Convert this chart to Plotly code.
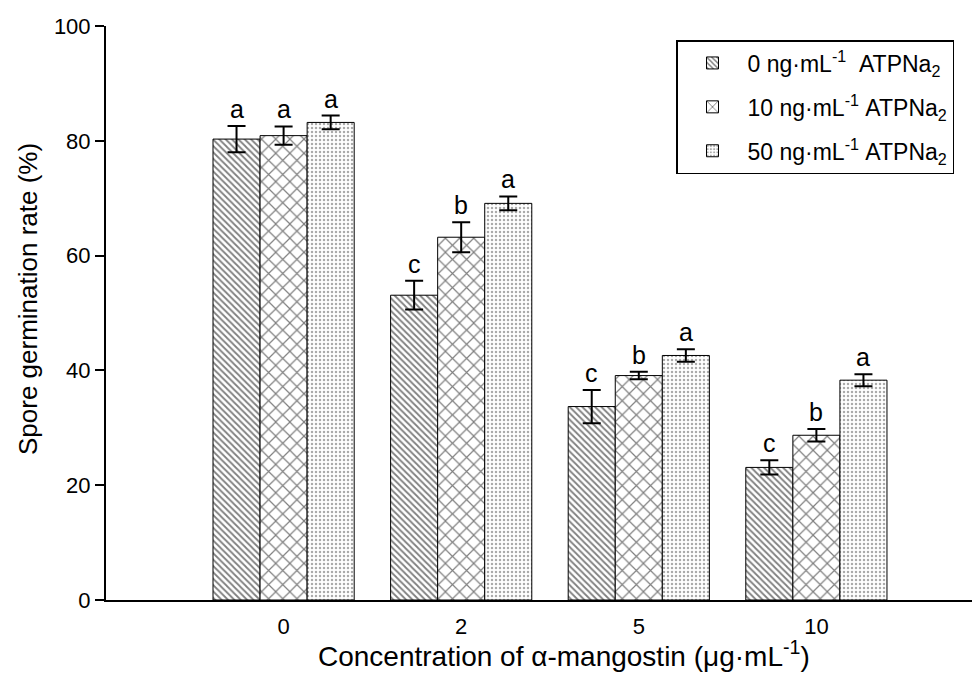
import plotly.graph_objects as go

# ---- data ----
categories = ["0", "2", "5", "10"]
series_names = [
    "0 ng·mL<sup>-1</sup>\u00a0\u00a0ATPNa<sub>2</sub>",
    "10 ng·mL<sup>-1</sup>\u00a0ATPNa<sub>2</sub>",
    "50 ng·mL<sup>-1</sup>\u00a0ATPNa<sub>2</sub>",
]
atp0_values = [80.3, 53.1, 33.7, 23.1]
atp0_errors = [2.3, 2.5, 2.9, 1.25]
atp0_letters = ["a", "c", "c", "c"]

atp10_values = [80.9, 63.2, 39.1, 28.7]
atp10_errors = [1.6, 2.6, 0.65, 1.1]
atp10_letters = ["a", "b", "b", "b"]

atp50_values = [83.2, 69.1, 42.6, 38.3]
atp50_errors = [1.2, 1.2, 1.1, 1.05]
atp50_letters = ["a", "a", "a", "a"]

y_ticks = [0, 20, 40, 60, 80, 100]
x_title = "Concentration of α-mangostin (μg·mL<sup>-1</sup>)"
y_title = "Spore germination rate (%)"

FONT = "Liberation Sans, Arial, Helvetica, sans-serif"

values = [atp0_values, atp10_values, atp50_values]
errors = [atp0_errors, atp10_errors, atp50_errors]
letters = [atp0_letters, atp10_letters, atp50_letters]
patterns = [
    dict(shape="\\", size=4.5, solidity=0.4, fgcolor="black", bgcolor="white"),
    dict(shape="x", size=10, solidity=0.22, fgcolor="black", bgcolor="white"),
    dict(shape=".", size=4, solidity=0.3, fgcolor="#555555", bgcolor="white"),
]

xpos = list(range(len(categories)))
bargap = 0.205
bw = (1 - bargap) / 3

fig = go.Figure()
for i in range(3):
    fig.add_trace(go.Bar(
        x=xpos, y=values[i], name=series_names[i], legendgroup=f"g{i}",
        marker=dict(color="white", pattern=patterns[i],
                    line=dict(color="black", width=1)),
        error_y=dict(type="data", array=errors[i], visible=True,
                     color="black", thickness=2, width=9),
    ))

annotations = []
for i in range(3):
    for j in range(len(categories)):
        annotations.append(dict(
            x=j + (i - 1) * bw, y=values[i][j] + errors[i][j],
            xref="x", yref="y", text=letters[i][j], showarrow=False,
            yanchor="bottom", yshift=1,
            font=dict(family=FONT, size=25, color="black"),
        ))

# axis titles (placed as in the reference, slightly off-centre)
annotations.append(dict(
    x=(556 - 98) / 872, y=-(646 - 592) / 574, xref="paper", yref="paper",
    text=x_title, showarrow=False, xanchor="center", yanchor="middle",
    font=dict(family=FONT, size=28, color="black"),
))
annotations.append(dict(
    x=(20 - 98) / 872, y=(592 - 291) / 574, xref="paper", yref="paper",
    text=y_title, showarrow=False, xanchor="center", yanchor="middle",
    textangle=-90, font=dict(family=FONT, size=26, color="black"),
))

# page body has an 8px margin, so the figure is 972x672 and margins are shifted
fig.update_layout(
    width=972, height=672,
    margin=dict(l=98, r=2, t=18, b=80, autoexpand=False),
    paper_bgcolor="white", plot_bgcolor="white",
    barmode="group", bargap=bargap, bargroupgap=0,
    font=dict(family=FONT, size=22, color="black"),
    annotations=annotations,
    legend=dict(
        x=(668 - 98) / 872, y=(592 - 32) / 574, xanchor="left", yanchor="top",
        bordercolor="black", borderwidth=1.5, bgcolor="white",
        font=dict(family=FONT, size=23, color="black"),
        itemwidth=60, tracegroupgap=11,
    ),
    xaxis=dict(
        range=[-1.0, 3.91], tickmode="array", tickvals=xpos, ticktext=categories,
        showline=True, linecolor="black", linewidth=2, ticks="",
        showgrid=False, zeroline=False, automargin=False,
        ticklabelstandoff=6,
        tickfont=dict(family=FONT, size=22),
    ),
    yaxis=dict(
        range=[0, 100], tickmode="array", tickvals=y_ticks,
        showline=True, linecolor="black", linewidth=2,
        ticks="outside", ticklen=9, tickwidth=1.5, tickcolor="black",
        showgrid=False, zeroline=False, automargin=False,
        tickfont=dict(family=FONT, size=22),
    ),
)

fig.write_html("out.html")
